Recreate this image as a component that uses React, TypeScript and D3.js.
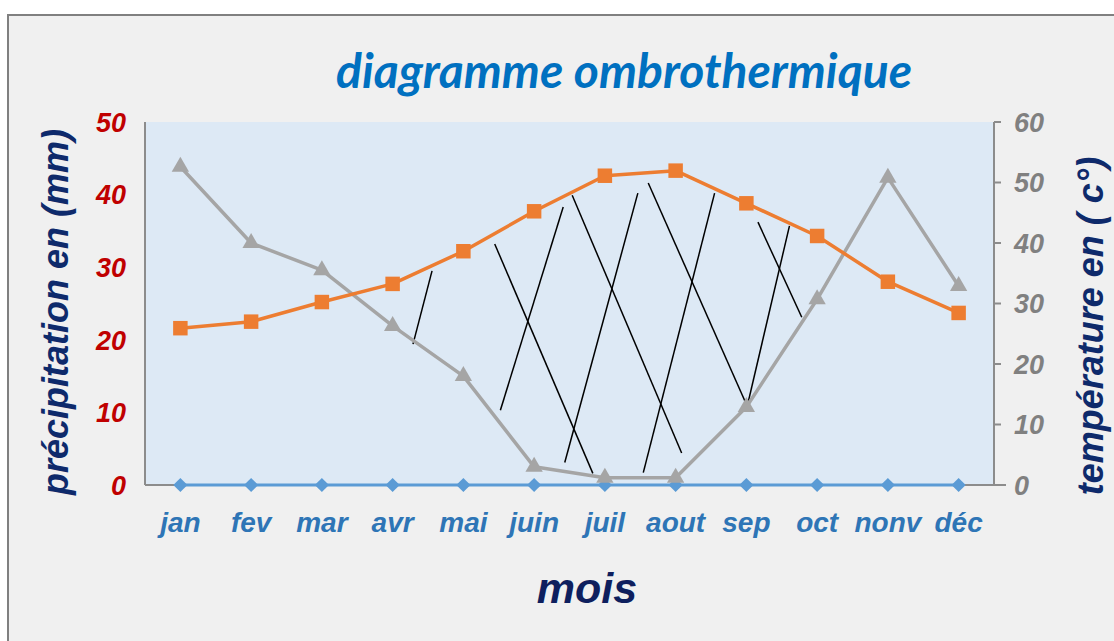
import React from 'react';
import * as d3 from 'd3';

const MONTHS = ['jan', 'fev', 'mar', 'avr', 'mai', 'juin', 'juil', 'aout', 'sep', 'oct', 'nonv', 'déc'];
// précipitations (mm), axe de gauche
const PRECIP = [21.6, 22.5, 25.2, 27.7, 32.2, 37.7, 42.6, 43.3, 38.8, 34.3, 28.0, 23.7];
// températures (°c), axe de droite
const TEMP = [52.6, 40.0, 35.5, 26.3, 18.0, 3.0, 1.2, 1.2, 12.9, 30.7, 50.8, 32.9];
// troisième série, à zéro
const BASE = [0, 0, 0, 0, 0, 0, 0, 0, 0, 0, 0, 0];
const LEFT_TICKS = [0, 10, 20, 30, 40, 50];
const RIGHT_TICKS = [0, 10, 20, 30, 40, 50, 60];
// hachures tracées à la main : [mois début, mm début, mois fin, mm fin]
const HATCHES: [number, number, number, number][] = [
  [3.557, 29.5, 3.288, 19.4],
  [4.443, 33.2, 5.830, 1.6],
  [4.523, 10.3, 5.411, 38.3],
  [5.538, 39.9, 7.085, 4.4],
  [5.433, 3.1, 6.466, 40.2],
  [6.613, 41.6, 8.023, 10.6],
  [6.543, 1.7, 7.551, 40.2],
  [8.164, 36.2, 8.783, 23.1],
  [8.023, 11.3, 8.609, 35.7],
];

const W = 1114;
const H = 641;
const M = { left: 145, right: 994, top: 122, bottom: 485 };

export default function App() {
  const x = d3.scalePoint<string>().domain(MONTHS).range([M.left, M.right]).padding(0.5);
  const xi = d3.scaleLinear().domain([-0.5, 11.5]).range([M.left, M.right]);
  const yL = d3.scaleLinear().domain([0, 50]).range([M.bottom, M.top]);
  const yR = d3.scaleLinear().domain([0, 60]).range([M.bottom, M.top]);

  const precipLine = d3.line<number>().x((_, i) => x(MONTHS[i])!).y(d => yL(d));
  const tempLine = d3.line<number>().x((_, i) => x(MONTHS[i])!).y(d => yR(d));
  const baseLine = d3.line<number>().x((_, i) => x(MONTHS[i])!).y(d => yL(d));

  const sq = d3.symbol().type(d3.symbolSquare).size(210)()!;
  const tri = d3.symbol().type(d3.symbolTriangle).size(130)()!;
  const dia = d3.symbol().type(d3.symbolSquare).size(100)()!;

  const lab = { fontFamily: '"Liberation Sans", Arial, sans-serif', fontWeight: 700, fontStyle: 'italic' as const };

  return (
    <svg width={W} height={H} style={{ position: 'absolute', left: 0, top: 0, display: 'block' }}>
      <rect x={0} y={0} width={W} height={H} fill="#ffffff" />
      <rect x={8} y={15} width={W + 10} height={H + 10} fill="#f0f0f0" stroke="#808080" strokeWidth={2} />

      <text x={624} y={88} textAnchor="middle" fill="#0070c0" fontSize={48}
        style={{ fontFamily: 'Lato, "Open Sans", sans-serif', fontWeight: 700, fontStyle: 'italic' }}>
        diagramme ombrothermique
      </text>

      {/* zone de tracé */}
      <rect x={M.left} y={M.top} width={M.right - M.left} height={M.bottom - M.top} fill="#dde9f5" />
      <line x1={M.left} y1={M.top} x2={M.left} y2={M.bottom} stroke="#8c8c8c" strokeWidth={2} />
      <line x1={M.right} y1={M.top} x2={M.right} y2={M.bottom} stroke="#8c8c8c" strokeWidth={2} />
      <line x1={M.left} y1={M.bottom} x2={M.right + 12} y2={M.bottom} stroke="#8c8c8c" strokeWidth={2} />
      {RIGHT_TICKS.map(t => (
        <line key={t} x1={M.right} x2={M.right + 7} y1={yR(t)} y2={yR(t)} stroke="#8c8c8c" strokeWidth={2} />
      ))}

      {/* graduations */}
      {LEFT_TICKS.map(t => (
        <text key={t} x={126} y={yL(t)} dy="0.36em" textAnchor="end" fill="#c00000" fontSize={27} style={lab}>{t}</text>
      ))}
      {RIGHT_TICKS.map(t => (
        <text key={t} x={1014} y={yR(t)} dy="0.36em" textAnchor="start" fill="#808080" fontSize={27} style={lab}>{t}</text>
      ))}
      {MONTHS.map(m => (
        <text key={m} x={x(m)!} y={532} textAnchor="middle" fill="#2e75b6" fontSize={28} style={lab}>{m}</text>
      ))}

      <text transform={`translate(68,312) rotate(-90)`} textAnchor="middle" fill="#0e2a6b" fontSize={36} style={lab}>
        précipitation en (mm)
      </text>
      <text transform={`translate(1103,326) rotate(-90)`} textAnchor="middle" fill="#0e2a6b" fontSize={36} style={lab}>
        température en ( c°)
      </text>
      <text x={587} y={603} textAnchor="middle" fill="#0e1f5e" fontSize={43} style={lab}>mois</text>

      {/* hachures */}
      {HATCHES.map((h, i) => (
        <line key={i} x1={xi(h[0])} y1={yL(h[1])} x2={xi(h[2])} y2={yL(h[3])} stroke="#000000" strokeWidth={1.5} />
      ))}

      {/* séries */}
      <path d={baseLine(BASE)!} fill="none" stroke="#5b9bd5" strokeWidth={3} />
      {BASE.map((v, i) => (
        <path key={i} d={dia} transform={`translate(${x(MONTHS[i])},${yL(v)}) rotate(45)`} fill="#5b9bd5" />
      ))}
      <path d={tempLine(TEMP)!} fill="none" stroke="#a5a5a5" strokeWidth={3.5} strokeLinejoin="round" />
      {TEMP.map((v, i) => (
        <path key={i} d={tri} transform={`translate(${x(MONTHS[i])},${yR(v)})`} fill="#a5a5a5" />
      ))}
      <path d={precipLine(PRECIP)!} fill="none" stroke="#ed7d31" strokeWidth={3.5} strokeLinejoin="round" />
      {PRECIP.map((v, i) => (
        <path key={i} d={sq} transform={`translate(${x(MONTHS[i])},${yL(v)})`} fill="#ed7d31" />
      ))}
    </svg>
  );
}
